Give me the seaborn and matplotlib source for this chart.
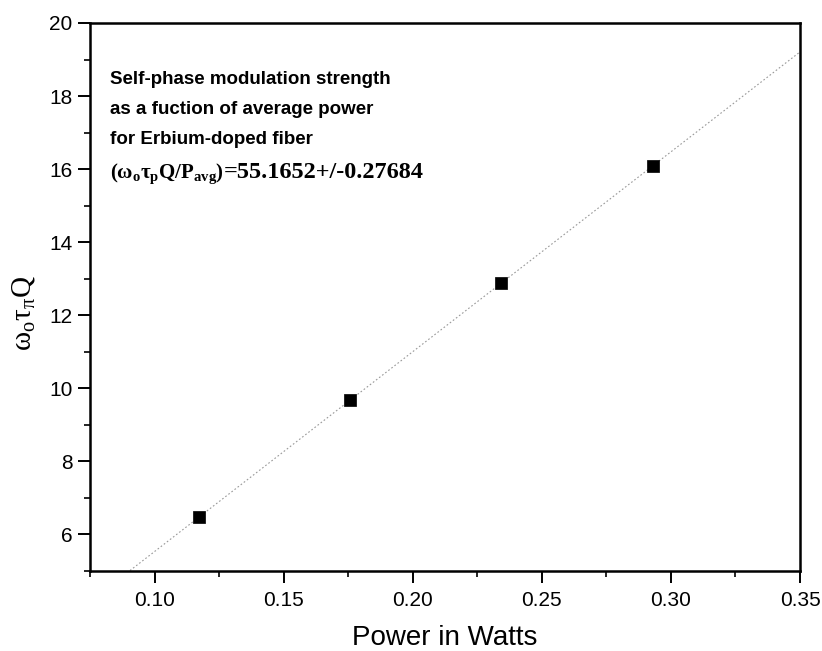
import matplotlib
matplotlib.use("Agg")
import matplotlib.pyplot as plt
from matplotlib.ticker import MultipleLocator
from matplotlib.transforms import ScaledTranslation
import pandas as pd
import seaborn as sns

# values
power_w = [0.1172, 0.1757, 0.2340, 0.2930]
spm_strength = [6.47, 9.67, 12.88, 16.08]
x_ticks = [0.10, 0.15, 0.20, 0.25, 0.30, 0.35]
y_ticks = [6, 8, 10, 12, 14, 16, 18, 20]
note_lines = [
    "Self-phase modulation strength",
    "as a fuction of average power",
    "for Erbium-doped fiber",
]
fit_lhs = r"$\mathbf{(\omega_o\tau_p Q/P_{avg})}$"
fit_rhs = "=55.1652+/-0.27684"

sns.set_style("ticks")
plt.rcParams["font.family"] = ["Liberation Sans", "DejaVu Sans"]
plt.rcParams["mathtext.fontset"] = "custom"
plt.rcParams["mathtext.rm"] = "Liberation Serif"
plt.rcParams["mathtext.it"] = "Liberation Serif:italic"
plt.rcParams["mathtext.bf"] = "Liberation Serif:bold"
for k in ["text.color", "axes.labelcolor", "xtick.color", "ytick.color", "axes.edgecolor"]:
    plt.rcParams[k] = "black"

df = pd.DataFrame({"power": power_w, "spm": spm_strength})

fig = plt.figure(figsize=(8.22, 6.51), dpi=100)
ax = fig.add_axes([90 / 822, 80 / 651, 710 / 822, 548 / 651])
ax.set_xlim(0.075, 0.35)
ax.set_ylim(5, 20)

sns.regplot(data=df, x="power", y="spm", scatter=False, ci=None, truncate=False,
            color="0.6", line_kws={"lw": 0.8, "ls": (0, (1.5, 2))}, ax=ax)
sns.scatterplot(data=df, x="power", y="spm", marker="s", s=75, color="black",
                edgecolor="black", linewidth=0.5, zorder=3, ax=ax)

ax.set_xticks(x_ticks)
ax.set_yticks(y_ticks)
ax.set_xticklabels([f"{v:.2f}" for v in x_ticks])
ax.xaxis.set_minor_locator(MultipleLocator(0.025))
ax.yaxis.set_minor_locator(MultipleLocator(1))
ax.tick_params(which="major", direction="out", length=8.5, width=1.4, labelsize=15, color="black")
ax.tick_params(which="minor", direction="out", length=4.3, width=1.2, color="black")
ax.tick_params(axis="x", which="major", pad=6)
ax.tick_params(axis="y", which="major", pad=4)
for sp in ax.spines.values():
    sp.set_linewidth(1.8)
    sp.set_color("black")
    sp.set_visible(True)

ax.set_xlabel("Power in Watts", fontsize=20, labelpad=11)
ax.set_ylabel(r"$\mathrm{\omega_o\tau_\pi Q}$", fontsize=21)
ax.yaxis.set_label_coords(-0.075, 0.47)

baselines = [0.8887, 0.8339, 0.7792, 0.7172]
for line, yb in zip(note_lines, baselines):
    ax.text(0.028, yb, line, transform=ax.transAxes, fontsize=13.5,
            fontweight="bold", va="baseline", ha="left")
lhs = ax.text(0.028, baselines[3], fit_lhs, transform=ax.transAxes, fontsize=15,
              family="Liberation Serif", fontweight="bold", va="baseline", ha="left")
fig.canvas.draw()
w_in = lhs.get_window_extent().width / fig.dpi
ax.text(0.028, baselines[3], fit_rhs, fontsize=17.5, family="Liberation Serif",
        fontweight="bold", va="baseline", ha="left",
        transform=ax.transAxes + ScaledTranslation(w_in, 0, fig.dpi_scale_trans))

fig.savefig("out.png", dpi=100)
